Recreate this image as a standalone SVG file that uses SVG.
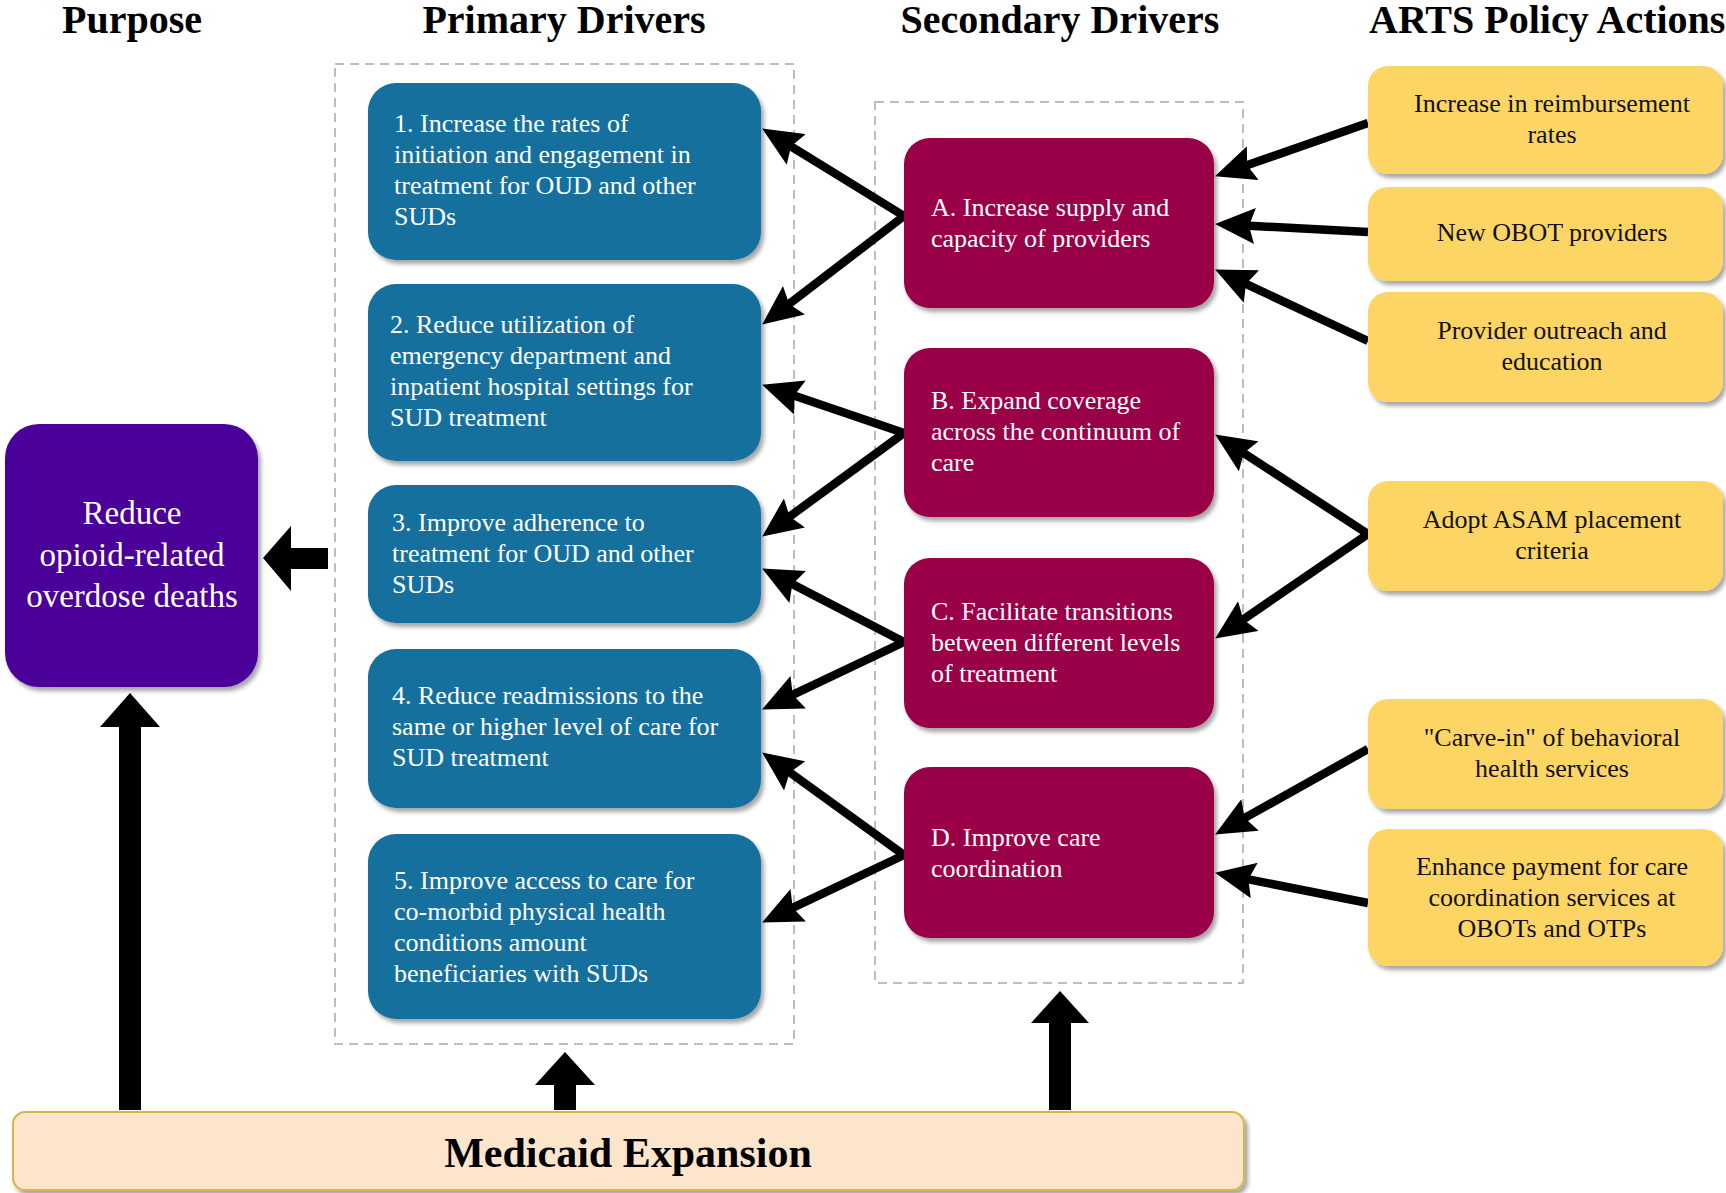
<svg xmlns="http://www.w3.org/2000/svg" width="1726" height="1193" viewBox="0 0 1726 1193">
<style>
text{font-family:"Liberation Serif","Times New Roman",serif}
.hdr{font-size:40px;font-weight:bold;fill:#000}
.pb{fill:#12709E;filter:url(#sh)}
.sb{fill:#990047;filter:url(#sh)}
.yb{fill:#FDD565;filter:url(#sh)}
.wt{font-size:26px;fill:#fff}
.bt{font-size:26px;fill:#111;text-anchor:middle}
.dash{fill:none;stroke:#bdbdbd;stroke-width:2;stroke-dasharray:9 6}
.con{stroke:#000;stroke-width:8.5;fill:none;marker-end:url(#ah)}
.blk{fill:#000}
</style>
<defs>
<filter id="sh" x="-10%" y="-10%" width="125%" height="125%">
<feDropShadow dx="3" dy="4" stdDeviation="2" flood-color="#000" flood-opacity="0.35"/>
</filter>
<marker id="ah" markerUnits="userSpaceOnUse" markerWidth="40" markerHeight="36" viewBox="0 0 40 36" refX="29" refY="18" orient="auto">
<path d="M0,0 L40,18 L0,36 L6,18 z" fill="#000"/>
</marker>
</defs>
<rect width="1726" height="1193" fill="#fff"/>

<g id="headers">
<text class="hdr" x="132" y="33" text-anchor="middle">Purpose</text>
<text class="hdr" x="564" y="33" text-anchor="middle">Primary Drivers</text>
<text class="hdr" x="1060" y="33" text-anchor="middle">Secondary Drivers</text>
<text class="hdr" x="1369" y="33">ARTS Policy Actions</text>
</g>

<g id="groups">
<rect class="dash" x="335" y="64" width="459" height="980"/>
<rect class="dash" x="875" y="102" width="368" height="881"/>
</g>

<g id="connectors">
<line class="con" x1="904" y1="216" x2="771.5" y2="134.3"/>
<line class="con" x1="904" y1="216" x2="770.9" y2="317.9"/>
<line class="con" x1="904" y1="433" x2="772.5" y2="388.2"/>
<line class="con" x1="904" y1="433" x2="771.1" y2="530.1"/>
<line class="con" x1="904" y1="642" x2="771.9" y2="573.6"/>
<line class="con" x1="904" y1="642" x2="772" y2="704.7"/>
<line class="con" x1="904" y1="855" x2="771.1" y2="758.9"/>
<line class="con" x1="904" y1="855" x2="772" y2="917.7"/>
<line class="con" x1="1368" y1="123" x2="1225.4" y2="172.7"/>
<line class="con" x1="1368" y1="232" x2="1226" y2="224.5"/>
<line class="con" x1="1368" y1="341" x2="1225.1" y2="274.2"/>
<line class="con" x1="1368" y1="534" x2="1224.4" y2="440.5"/>
<line class="con" x1="1368" y1="534" x2="1224.3" y2="632.4"/>
<line class="con" x1="1368" y1="749" x2="1224.7" y2="829.1"/>
<line class="con" x1="1368" y1="903" x2="1225.8" y2="874.9"/>
<polygon class="blk" points="263,558 291,526 291,548 328,548 328,569 291,569 291,591"/>
<polygon class="blk" points="130,693 160,727 141,727 141,1110 119,1110 119,727 100,727"/>
<polygon class="blk" points="565,1052 595,1085 576,1085 576,1110 554,1110 554,1085 535,1085"/>
<polygon class="blk" points="1060,991 1089,1023 1071,1023 1071,1110 1049,1110 1049,1023 1031,1023"/>
</g>

<g id="purpose">
<rect x="5" y="424" width="253" height="263" rx="34" fill="#4B0099" filter="url(#sh)"/>
<text x="132" y="524" font-size="33" fill="#fff" text-anchor="middle">Reduce</text>
<text x="132" y="566" font-size="33" fill="#fff" text-anchor="middle">opioid-related</text>
<text x="132" y="607" font-size="33" fill="#fff" text-anchor="middle">overdose deaths</text>
</g>

<g id="p1">
<rect class="pb" x="368" y="83" width="393" height="177" rx="28"/>
<text class="wt" x="394"><tspan x="394" y="132">1. Increase the rates of</tspan><tspan x="394" y="163">initiation and engagement in</tspan><tspan x="394" y="194">treatment for OUD and other</tspan><tspan x="394" y="225">SUDs</tspan></text>
</g>
<g id="p2">
<rect class="pb" x="368" y="284" width="393" height="177" rx="28"/>
<text class="wt"><tspan x="390" y="333">2. Reduce utilization of</tspan><tspan x="390" y="364">emergency department and</tspan><tspan x="390" y="395">inpatient hospital settings for</tspan><tspan x="390" y="426">SUD treatment</tspan></text>
</g>
<g id="p3">
<rect class="pb" x="368" y="485" width="393" height="138" rx="28"/>
<text class="wt"><tspan x="392" y="531">3. Improve adherence to</tspan><tspan x="392" y="562">treatment for OUD and other</tspan><tspan x="392" y="593">SUDs</tspan></text>
</g>
<g id="p4">
<rect class="pb" x="368" y="649" width="393" height="159" rx="28"/>
<text class="wt"><tspan x="392" y="704">4. Reduce readmissions to the</tspan><tspan x="392" y="735">same or higher level of care for</tspan><tspan x="392" y="766">SUD treatment</tspan></text>
</g>
<g id="p5">
<rect class="pb" x="368" y="834" width="393" height="185" rx="28"/>
<text class="wt"><tspan x="394" y="889">5. Improve access to care for</tspan><tspan x="394" y="920">co-morbid physical health</tspan><tspan x="394" y="951">conditions amount</tspan><tspan x="394" y="982">beneficiaries with SUDs</tspan></text>
</g>

<g id="sA">
<rect class="sb" x="904" y="138" width="310" height="170" rx="26"/>
<text class="wt"><tspan x="931" y="216">A. Increase supply and</tspan><tspan x="931" y="247">capacity of providers</tspan></text>
</g>
<g id="sB">
<rect class="sb" x="904" y="348" width="310" height="169" rx="26"/>
<text class="wt"><tspan x="931" y="409">B. Expand coverage</tspan><tspan x="931" y="440">across the continuum of</tspan><tspan x="931" y="471">care</tspan></text>
</g>
<g id="sC">
<rect class="sb" x="904" y="558" width="310" height="170" rx="26"/>
<text class="wt"><tspan x="931" y="620">C. Facilitate transitions</tspan><tspan x="931" y="651">between different levels</tspan><tspan x="931" y="682">of treatment</tspan></text>
</g>
<g id="sD">
<rect class="sb" x="904" y="767" width="310" height="171" rx="26"/>
<text class="wt"><tspan x="931" y="846">D. Improve care</tspan><tspan x="931" y="877">coordination</tspan></text>
</g>

<g id="a1">
<rect class="yb" x="1368" y="66" width="355" height="108" rx="20"/>
<text class="bt"><tspan x="1552" y="112">Increase in reimbursement</tspan><tspan x="1552" y="143">rates</tspan></text>
</g>
<g id="a2">
<rect class="yb" x="1368" y="187" width="355" height="94" rx="20"/>
<text class="bt"><tspan x="1552" y="241">New OBOT providers</tspan></text>
</g>
<g id="a3">
<rect class="yb" x="1368" y="292" width="355" height="110" rx="20"/>
<text class="bt"><tspan x="1552" y="339">Provider outreach and</tspan><tspan x="1552" y="370">education</tspan></text>
</g>
<g id="a4">
<rect class="yb" x="1368" y="481" width="355" height="110" rx="20"/>
<text class="bt"><tspan x="1552" y="528">Adopt ASAM placement</tspan><tspan x="1552" y="559">criteria</tspan></text>
</g>
<g id="a5">
<rect class="yb" x="1368" y="699" width="355" height="110" rx="20"/>
<text class="bt"><tspan x="1552" y="746">"Carve-in" of behavioral</tspan><tspan x="1552" y="777">health services</tspan></text>
</g>
<g id="a6">
<rect class="yb" x="1368" y="829" width="355" height="137" rx="20"/>
<text class="bt"><tspan x="1552" y="875">Enhance payment for care</tspan><tspan x="1552" y="906">coordination services at</tspan><tspan x="1552" y="937">OBOTs and OTPs</tspan></text>
</g>

<g id="medicaid">
<rect x="13" y="1112" width="1231" height="78" rx="12" fill="#FDE5CC" stroke="#D8B54C" stroke-width="2" filter="url(#sh)"/>
<text x="628" y="1167" font-size="42" font-weight="bold" text-anchor="middle" fill="#000">Medicaid Expansion</text>
</g>
</svg>
